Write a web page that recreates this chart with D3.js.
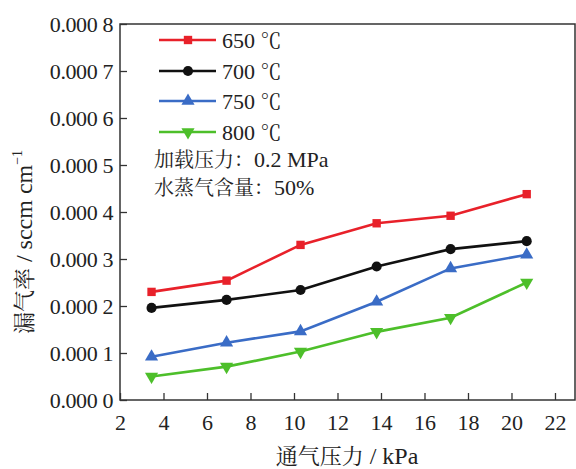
<!DOCTYPE html>
<html><head><meta charset="utf-8">
<script src="https://cdn.jsdelivr.net/npm/d3@7"></script>
<style>body{margin:0;background:#fff}svg{display:block}</style>
</head><body><svg id="c" width="576" height="469"></svg>
<script>
const pressures = [3.45, 6.9, 10.3, 13.8, 17.2, 20.7];
const seriesTemps = ["650", "700", "750", "800"];
const s650 = [0.000230, 0.000254, 0.000330, 0.000376, 0.000392, 0.000438];
const s700 = [0.000196, 0.000213, 0.000234, 0.000284, 0.000321, 0.000338];
const s750 = [0.000092, 0.000122, 0.000146, 0.000209, 0.000280, 0.000309];
const s800 = [0.000050, 0.000071, 0.000103, 0.000145, 0.000175, 0.000250];
const xTicks = [2,4,6,8,10,12,14,16,18,20,22];
const yTicks = [0,0.0001,0.0002,0.0003,0.0004,0.0005,0.0006,0.0007,0.0008];
const colors = ["#e8212a", "#111111", "#3a6cc6", "#4dbf2a"];
const symbols = [d3.symbolSquare, d3.symbolCircle, d3.symbolTriangle, "tdown"];
const allSeries = [s650, s700, s750, s800];

const SERIF = "Liberation Serif";
const CJK = "Noto Serif CJK SC";
const svg = d3.select("#c");
const L=120, R=575, T=24, B=400;
const x = d3.scaleLinear().domain([2, 22.92]).range([L, R]);
const y = d3.scaleLinear().domain([0, 0.0008]).range([B, T]);

svg.append("rect").attr("x",L).attr("y",T).attr("width",R-L).attr("height",B-T)
  .attr("fill","none").attr("stroke","#333").attr("stroke-width",1.5);

const xa = svg.append("g").attr("transform",`translate(0,${B})`)
  .call(d3.axisBottom(x).tickValues(xTicks).tickSizeInner(-7).tickSizeOuter(0).tickPadding(14).tickFormat(d3.format("d")));
const ya = svg.append("g").attr("transform",`translate(${L},0)`)
  .call(d3.axisLeft(y).tickValues(yTicks).tickSizeInner(-7).tickSizeOuter(0).tickPadding(7)
    .tickFormat(d => { const s = d3.format(".4f")(d); return s.slice(0,5)+" "+s.slice(5); }));
[xa, ya].forEach(a => {
  a.attr("font-family", SERIF).attr("font-size", 22);
  a.select(".domain").remove();
  a.selectAll("line").attr("stroke","#333").attr("stroke-width",1.3);
  a.selectAll("text").attr("fill","#222");
});
ya.selectAll("text").attr("letter-spacing", -0.4);

function sym(i, size){
  const t = symbols[i] === "tdown" ? d3.symbolTriangle : symbols[i];
  return d3.symbol().type(t).size(size)();
}
const sizes = [70, 80, 75, 75];

const line = d3.line().x((d,i)=>x(pressures[i])).y(d=>y(d));
allSeries.forEach((s,i) => {
  svg.append("path").datum(s).attr("d",line).attr("fill","none")
    .attr("stroke",colors[i]).attr("stroke-width",2.6);
  svg.selectAll(null).data(s).enter().append("path")
    .attr("d", sym(i, sizes[i]))
    .attr("transform",(d,j)=>`translate(${x(pressures[j])},${y(d)})${symbols[i]==="tdown"?" rotate(180)":""}`)
    .attr("fill",colors[i]);
});

const legY = [40, 71, 101, 132];
seriesTemps.forEach((n,i) => {
  const g = svg.append("g").attr("transform",`translate(0,${legY[i]})`);
  g.append("line").attr("x1",159).attr("x2",216).attr("y1",0).attr("y2",0)
    .attr("stroke",colors[i]).attr("stroke-width",2.6);
  g.append("path").attr("d",sym(i,sizes[i]))
    .attr("transform",`translate(188,0)${symbols[i]==="tdown"?" rotate(180)":""}`).attr("fill",colors[i]);
  const t = g.append("text").attr("x",222).attr("y",8).attr("fill","#222");
  t.append("tspan").text(n+" ").attr("font-family",SERIF).attr("font-size",22);
  t.append("tspan").text("℃").attr("font-family",CJK).attr("font-size",21);
});

const t1 = svg.append("text").attr("x",154).attr("y",167).attr("fill","#222");
t1.append("tspan").text("加载压力：").attr("font-family",CJK).attr("font-size",20);
t1.append("tspan").text("0.2 MPa").attr("font-family",SERIF).attr("font-size",22);
const t2 = svg.append("text").attr("x",154).attr("y",195).attr("fill","#222");
t2.append("tspan").text("水蒸气含量：").attr("font-family",CJK).attr("font-size",20);
t2.append("tspan").text("50%").attr("font-family",SERIF).attr("font-size",22);

const xt = svg.append("text").attr("x",347).attr("y",464).attr("text-anchor","middle").attr("fill","#222");
xt.append("tspan").text("通气压力").attr("font-family",CJK).attr("font-size",22);
xt.append("tspan").text(" / kPa").attr("font-family",SERIF).attr("font-size",24);

const yt = svg.append("text").attr("transform","translate(32,242) rotate(-90)").attr("text-anchor","middle").attr("fill","#222");
yt.append("tspan").text("漏气率").attr("font-family",CJK).attr("font-size",22);
yt.append("tspan").text(" / sccm cm").attr("font-family",SERIF).attr("font-size",24);
yt.append("tspan").text("−1").attr("font-family",SERIF).attr("font-size",14).attr("dy",-10);
</script></body></html>
